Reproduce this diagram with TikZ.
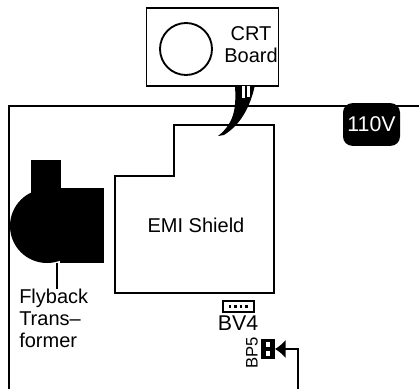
\documentclass[tikz,border=0pt]{standalone}
\usepackage{fontspec}
\setmainfont{Liberation Sans}
\usetikzlibrary{calc}
\usetikzlibrary{arrows.meta}

\tikzset{
	wire/.style={line width=1.4pt, black},
	part/.style={draw, line width=1.4pt, inner sep=0pt},
	lbl/.style={inner sep=0pt, font=\fontsize{15}{16.5}\selectfont, align=left},
	pin/.style={fill=black, inner sep=0pt, minimum size=2.2pt},
}

\begin{document}
\begin{tikzpicture}[x=0.75pt, y=-0.75pt]
		\useasboundingbox (0,0) rectangle (419,389);
		% CRT board
		\node[part, minimum width=99pt, minimum height=58pt] (crt) at (212.5,47) {};
		\node[part, circle, minimum size=39pt] (tube) at (186,49) {};
		\node[lbl, align=center] (crtlabel) at (251,45) {CRT\\Board};
		% chassis outline
		\coordinate (cornerTL) at (9,106);
		\coordinate (cornerTR) at (419,106);
		\coordinate (cornerBL) at (9,389);
		\draw[wire] (cornerBL) -- (cornerTL) -- (cornerTR);
		\node[fill=black, text=white, rounded corners=7pt, minimum width=42.75pt, minimum height=32pt, inner sep=0pt, font=\fontsize{16}{18}\selectfont] (volt) at (371.5,124.5) {110V};
		% shield
		\draw[wire] (115,176) -- (174,176) -- (174,125) -- (274,125) -- (274,293) -- (115,293) -- cycle;
		\node[lbl] (shield) at (196,225) {EMI Shield};
		% cable
		\coordinate (cableA) at (235,85);
		\coordinate (cableB) at (255,85);
		\coordinate (cableEnd) at (218,136);
		\fill (cableA) .. controls (236,105) and (236,122) .. (cableEnd)
			-- (224,135) .. controls (240,125) and (250,108) .. (cableB) -- cycle;
		\fill[white] (242,86) rectangle (245,98);
		\fill[white] (247,86) rectangle (250,97);
		% flyback
		\fill (31,160) rectangle (61,200);
		\fill (60,188) rectangle (104,263);
		\fill (47,226) ellipse[x radius=37, y radius=37];
		\coordinate (flyback) at (57,263);
		\node[lbl, anchor=north west] (flybacklabel) at (19,289) {Flyback\\Trans--\\former};
		\draw[wire] (flyback) -- (flyback |- flybacklabel.north);
		% connectors
		\node[part, minimum width=23pt, minimum height=8.5pt] (bv) at (238.5,306.7) {};
		\foreach \px in {229.5,235,240.5,246} {
			\node[pin] at (\px+.5,306.7) {};
		}
		\node[inner sep=0pt, font=\fontsize{16}{18}\selectfont] (bvlabel) at (238,323.5) {BV4};
		\node[part, fill=black, minimum width=9pt, minimum height=13.5pt] (bp) at (268,349) {};
		\node[pin, minimum size=3.6pt, fill=white] at (268,344.5) {};
		\node[pin, minimum size=3.6pt, fill=white] at (268,353.5) {};
		\node[lbl, rotate=90, font=\fontsize{12.5}{14}\selectfont] (bplabel) at (252,353) {BP5};
		\coordinate (feed) at (298,389);
		\draw[wire, -{Latex[length=8pt, width=14pt]}] (feed) |- (bp.east);
	\end{tikzpicture}
\end{document}
